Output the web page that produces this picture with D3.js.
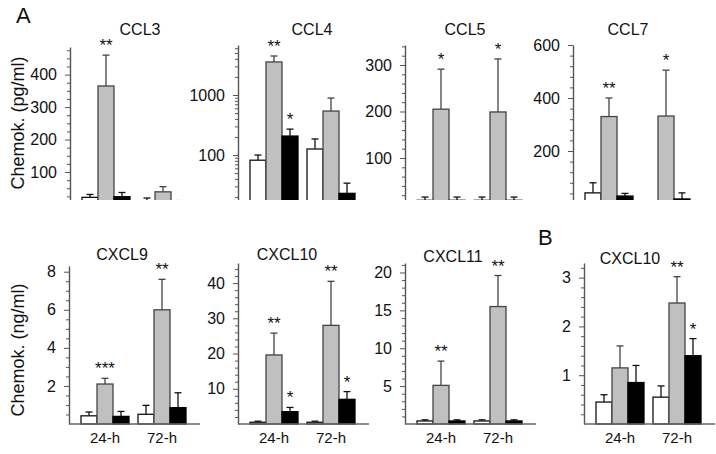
<!DOCTYPE html>
<html><head><meta charset="utf-8">
<script src="https://cdn.jsdelivr.net/npm/d3@7"></script>
<style>body{margin:0;background:#fff} text{font-family:"Liberation Sans",Arial,Helvetica,sans-serif;fill:#111}</style>
</head><body><svg id="c" width="716" height="454"></svg>
<script>
// ---------- data ----------
const groups = ["24-h", "72-h"];
const series = ["control", "stimulus", "stimulus+inhibitor"];
const panelTitles = ["CCL3", "CCL4", "CCL5", "CCL7", "CXCL9", "CXCL10", "CXCL11", "CXCL10"];
const panelLetters = ["A", "B"];
const yLabels = ["Chemok. (pg/ml)", "Chemok. (ng/ml)"];

// means [group][series]
const ccl3Mean   = [[22, 365, 24], [8, 39, 6]];
const ccl3Err    = [[31, 460, 37], [20, 55, 12]];
const ccl4Mean   = [[82, 3550, 207], [126, 540, 23]];
const ccl4Err    = [[100, 4460, 270], [185, 890, 34]];
const ccl5Mean   = [[9, 205, 9], [9, 199, 9]];
const ccl5Err    = [[16, 291, 16], [16, 313, 16]];
const ccl7Mean   = [[42, 330, 30], [6, 332, 19]];
const ccl7Err    = [[80, 400, 40], [12, 505, 42]];
const cxcl9Mean  = [[0.43, 2.1, 0.4], [0.51, 6.0, 0.86]];
const cxcl9Err   = [[0.63, 2.4, 0.66], [0.98, 7.6, 1.64]];
const cxcl10Mean = [[0.5, 19.6, 3.5], [0.5, 28, 7.0]];
const cxcl10Err  = [[0.8, 25.8, 4.7], [0.8, 40.5, 9.2]];
const cxcl11Mean = [[0.4, 5.1, 0.4], [0.4, 15.5, 0.4]];
const cxcl11Err  = [[0.55, 8.3, 0.55], [0.55, 19.6, 0.55]];
const bCxcl10Mean = [[0.45, 1.15, 0.85], [0.55, 2.48, 1.4]];
const bCxcl10Err  = [[0.6, 1.6, 1.2], [0.78, 3.02, 1.75]];

// y tick labels (major) and minor ticks
const ccl3Ticks = [100, 200, 300, 400];
const ccl4Ticks = [100, 1000];
const ccl4Minor = [20,30,40,50,60,70,80,90,200,300,400,500,600,700,800,900,2000,3000,4000,5000,6000];
const ccl5Ticks = [100, 200, 300];
const ccl7Ticks = [200, 400, 600];
const cxcl9Ticks = [2, 4, 6, 8];
const cxcl10Ticks = [10, 20, 30, 40];
const cxcl11Ticks = [5, 10, 15, 20];
const bCxcl10Ticks = [1, 2, 3];

// significance marks: [group index, series index, label]
const ccl3Sig = [[0, 1, "**"]];
const ccl4Sig = [[0, 1, "**"], [0, 2, "*"]];
const ccl5Sig = [[0, 1, "*"], [1, 1, "*"]];
const ccl7Sig = [[0, 1, "**"], [1, 1, "*"]];
const cxcl9Sig = [[0, 1, "***"], [1, 1, "**"]];
const cxcl10Sig = [[0, 1, "**"], [0, 2, "*"], [1, 1, "**"], [1, 2, "*"]];
const cxcl11Sig = [[0, 1, "**"], [1, 1, "**"]];
const bCxcl10Sig = [[1, 1, "**"], [1, 2, "*"]];

// ---------- layout ----------
const panels = [
  {title: panelTitles[0], mean: ccl3Mean, err: ccl3Err, ticks: ccl3Ticks, minorStep: 25, dom: [0, 485], log: false, sig: ccl3Sig,
   ax: 70, y0: 204.5, y1: 47, tx: 140, ty: 35, top: true},
  {title: panelTitles[1], mean: ccl4Mean, err: ccl4Err, ticks: ccl4Ticks, minor: ccl4Minor, dom: [15, 6800], log: true, sig: ccl4Sig,
   ax: 238, y0: 204.5, y1: 45, tx: 312, ty: 35, top: true},
  {title: panelTitles[2], mean: ccl5Mean, err: ccl5Err, ticks: ccl5Ticks, minorStep: 20, dom: [0, 343], log: false, sig: ccl5Sig,
   ax: 405, y0: 204.5, y1: 45, tx: 465, ty: 35, top: true},
  {title: panelTitles[3], mean: ccl7Mean, err: ccl7Err, ticks: ccl7Ticks, minorStep: 40, dom: [0, 600], log: false, sig: ccl7Sig,
   ax: 573, y0: 204, y1: 45, tx: 628, ty: 35, top: true},
  {title: panelTitles[4], mean: cxcl9Mean, err: cxcl9Err, ticks: cxcl9Ticks, minorStep: 0.5, dom: [0, 8.3], log: false, sig: cxcl9Sig,
   ax: 69, y0: 424, y1: 266, tx: 122, ty: 260, top: false},
  {title: panelTitles[5], mean: cxcl10Mean, err: cxcl10Err, ticks: cxcl10Ticks, minorStep: 2, dom: [0, 45.7], log: false, sig: cxcl10Sig,
   ax: 238, y0: 424, y1: 263, tx: 287, ty: 260, top: false},
  {title: panelTitles[6], mean: cxcl11Mean, err: cxcl11Err, ticks: cxcl11Ticks, minorStep: 1, dom: [0, 21.25], log: false, sig: cxcl11Sig,
   ax: 405, y0: 424, y1: 263, tx: 453, ty: 262, top: false},
  {title: panelTitles[7], mean: bCxcl10Mean, err: bCxcl10Err, ticks: bCxcl10Ticks, minorStep: 0.2, dom: [0, 3.3], log: false, sig: bCxcl10Sig,
   ax: 584, y0: 424, y1: 263, tx: 630, ty: 264, top: false},
];

const fills = ["#ffffff", "#c0c0c0", "#000000"];
const strokes = ["#111111", "#444444", "#000000"];
const errColors = ["#111111", "#444444", "#111111"];
const FONT = '"Liberation Sans",Arial,sans-serif';

const svg = d3.select("#c");
svg.append("defs").append("clipPath").attr("id", "topclip")
  .append("rect").attr("x", 0).attr("y", 0).attr("width", 716).attr("height", 200);

panels.forEach(p => {
  const g = svg.append("g");
  const plot = p.top ? g.append("g").attr("clip-path", "url(#topclip)") : g.append("g");

  const y = (p.log ? d3.scaleLog() : d3.scaleLinear()).domain(p.dom).range([p.y0, p.y1]);
  const base = y(p.dom[0]);
  const x0 = d3.scaleBand().domain(groups).range([p.ax + 12, p.ax + 117]).paddingInner(0.158);
  const x1 = d3.scaleBand().domain(series).range([0, x0.bandwidth()]);

  // minor ticks
  const minor = p.minor ? p.minor : d3.range(p.minorStep, p.dom[1] + 1e-9, p.minorStep)
      .filter(v => !p.ticks.some(t => Math.abs(t - v) < 1e-9));
  const minorAxis = plot.append("g").attr("transform", `translate(${p.ax},0)`)
    .call(d3.axisLeft(y).tickValues(minor).tickSize(3).tickSizeOuter(0).tickFormat(""));
  minorAxis.select(".domain").remove();
  minorAxis.selectAll("line").attr("stroke", "#555").attr("stroke-width", 1);

  const majorAxis = plot.append("g").attr("transform", `translate(${p.ax},0)`)
    .call(d3.axisLeft(y).tickValues(p.ticks).tickSize(5).tickSizeOuter(0).tickPadding(8)
      .tickFormat(d => d3.format("d")(d)));
  majorAxis.select(".domain").attr("stroke", "#555").attr("stroke-width", 1.4);
  majorAxis.selectAll("line").attr("stroke", "#555").attr("stroke-width", 1);
  majorAxis.selectAll("text").attr("font-size", 16).attr("fill", "#111").style("font-family", FONT);

  // bars
  groups.forEach((grp, gi) => {
    series.forEach((s, si) => {
      const v = p.mean[gi][si], e = p.err[gi][si];
      const bx = x0(grp) + x1(s);
      const cx = bx + x1.bandwidth() / 2;
      plot.append("line").attr("x1", cx).attr("x2", cx).attr("y1", y(v)).attr("y2", y(e))
        .attr("stroke", errColors[si]).attr("stroke-width", 1.3);
      plot.append("line").attr("x1", cx - 3.5).attr("x2", cx + 3.5).attr("y1", y(e)).attr("y2", y(e))
        .attr("stroke", errColors[si]).attr("stroke-width", 1.3);
      plot.append("rect").attr("x", bx).attr("y", y(v)).attr("width", x1.bandwidth())
        .attr("height", Math.max(0, base - y(v)))
        .attr("fill", fills[si]).attr("stroke", strokes[si]).attr("stroke-width", 1.3);
    });
  });

  // significance stars
  p.sig.forEach(([gi, si, lab]) => {
    const cx = x0(groups[gi]) + x1(series[si]) + x1.bandwidth() / 2;
    g.append("text").attr("x", cx).attr("y", y(p.err[gi][si]) - 4)
      .attr("text-anchor", "middle").attr("font-size", 17).attr("fill", "#111").text(lab);
  });

  // x axis (bottom row only; top row is cut off)
  if (!p.top) {
    g.append("line").attr("x1", p.ax).attr("x2", p.ax + 131).attr("y1", p.y0).attr("y2", p.y0)
      .attr("stroke", "#666").attr("stroke-width", 1.5);
    const xa = g.append("g").attr("transform", `translate(0,${p.y0})`)
      .call(d3.axisBottom(x0).tickSize(0).tickPadding(8));
    xa.select(".domain").remove();
    xa.selectAll("text").attr("font-size", 15).attr("fill", "#111").style("font-family", FONT);
  }

  // title
  g.append("text").attr("x", p.tx).attr("y", p.ty).attr("text-anchor", "middle")
    .attr("font-size", 16).text(p.title);
});

// y labels
svg.append("text").attr("transform", "translate(24,123) rotate(-90)").attr("text-anchor", "middle")
  .attr("font-size", 18).text(yLabels[0]);
svg.append("text").attr("transform", "translate(24,350) rotate(-90)").attr("text-anchor", "middle")
  .attr("font-size", 18).text(yLabels[1]);

// panel letters
svg.append("text").attr("x", 16).attr("y", 23).attr("font-size", 22).text(panelLetters[0]);
svg.append("text").attr("x", 538).attr("y", 245).attr("font-size", 22).text(panelLetters[1]);
</script></body></html>
